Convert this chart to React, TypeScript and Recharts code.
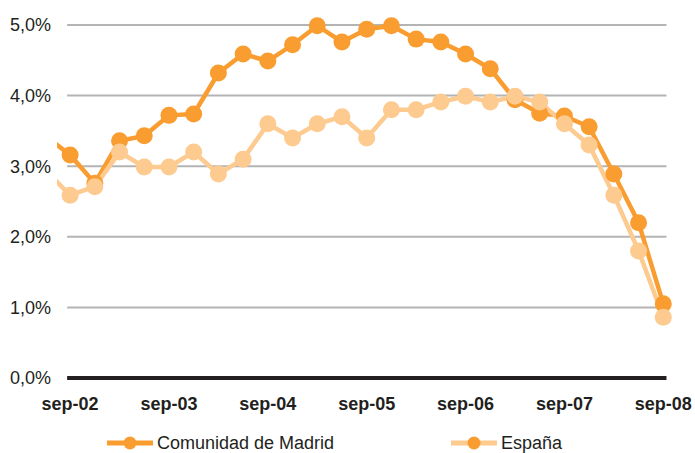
import { LineChart, Line, XAxis, YAxis, ReferenceLine } from 'recharts'

// quarterly values, sep-02 .. sep-08 (first entry is jun-02, only visible as a stub)
const madrid = [3.43, 3.16, 2.76, 3.36, 3.43, 3.72, 3.74, 4.32, 4.59, 4.49, 4.72, 4.99, 4.76, 4.94, 4.99, 4.8, 4.76, 4.59, 4.38, 3.94, 3.75, 3.71, 3.56, 2.89, 2.2, 1.05]
const espana = [2.94, 2.59, 2.71, 3.2, 2.99, 2.99, 3.2, 2.89, 3.1, 3.6, 3.4, 3.6, 3.7, 3.4, 3.8, 3.8, 3.91, 3.99, 3.91, 3.99, 3.91, 3.6, 3.3, 2.59, 1.8, 0.86]
const tickLabels = ['sep-02', 'sep-03', 'sep-04', 'sep-05', 'sep-06', 'sep-07', 'sep-08']
const yTicks = [0, 1, 2, 3, 4, 5]

const MADRID = '#f99d31'
const ESPANA = '#fdca90'
const TEXT = '#231f20'

const data = madrid.map((v, i) => ({ x: i - 1, madrid: v, espana: espana[i] }))
const xTicks = tickLabels.map((_, i) => i * 4)

function dotFor(color: string) {
  return (p: any) =>
    p.index === 0 ? <g key={p.key ?? p.index} /> : <circle key={p.key ?? p.index} cx={p.cx} cy={p.cy} r={8.5} fill={color} />
}

function LegendItem({ color, dotColor, label, left }: { color: string; dotColor: string; label: string; left: number }) {
  return (
    <div style={{ position: 'absolute', left, top: 433, height: 20, display: 'flex', alignItems: 'center' }}>
      <svg width={46} height={20}>
        <line x1={0} y1={10} x2={46} y2={10} stroke={color} strokeWidth={5} />
        <circle cx={23} cy={10} r={6.5} fill={dotColor} />
      </svg>
      <span style={{ marginLeft: 4, fontSize: 18, color: TEXT, lineHeight: '20px' }}>{label}</span>
    </div>
  )
}

export default function App() {
  return (
    <div style={{ position: 'absolute', left: 0, top: 0, width: 695, height: 453, fontFamily: '"Liberation Sans", Arial, sans-serif' }}>
      <LineChart width={695} height={453} data={data} margin={{ top: 25, right: 7, left: 0, bottom: 40 }}>
        <XAxis
          dataKey="x"
          type="number"
          domain={[-0.53, 25]}
          allowDataOverflow
          ticks={xTicks}
          tickFormatter={(v: number) => tickLabels[v / 4]}
          axisLine={false}
          tickLine={false}
          tickMargin={13}
          height={35}
          tick={{ fill: TEXT, fontSize: 18, fontWeight: 'bold' }}
        />
        <YAxis
          type="number"
          domain={[0, 5]}
          ticks={yTicks}
          tickFormatter={(v: number) => v.toFixed(1).replace('.', ',') + '%'}
          axisLine={false}
          tickLine={false}
          tickMargin={0}
          width={57}
          tick={{ fill: TEXT, fontSize: 18 }}
        />
        {yTicks.slice(1).map(y => (
          <ReferenceLine key={y} segment={[{ x: -0.12, y }, { x: 24.13, y }]} stroke="#b4b4b4" strokeWidth={2} ifOverflow="visible" />
        ))}
        <ReferenceLine segment={[{ x: -0.12, y: 0 }, { x: 24.13, y: 0 }]} stroke={TEXT} strokeWidth={4} ifOverflow="visible" />
        <Line dataKey="madrid" stroke={MADRID} strokeWidth={4.5} dot={dotFor(MADRID)} activeDot={false} isAnimationActive={false} />
        <Line dataKey="espana" stroke={ESPANA} strokeWidth={4.5} dot={dotFor(ESPANA)} activeDot={false} isAnimationActive={false} />
      </LineChart>
      <LegendItem color={MADRID} dotColor={MADRID} label="Comunidad de Madrid" left={107} />
      <LegendItem color={ESPANA} dotColor={MADRID} label="España" left={451} />
    </div>
  )
}
